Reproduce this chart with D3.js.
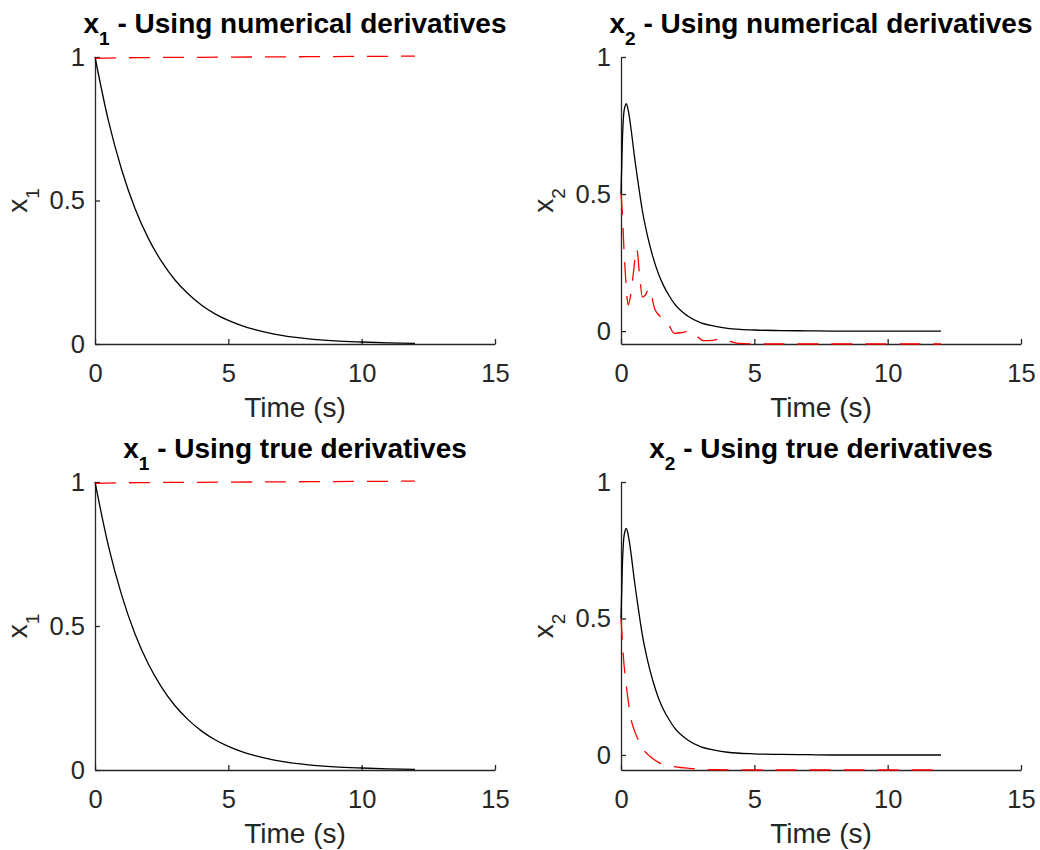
<!DOCTYPE html>
<html>
<head>
<meta charset="utf-8">
<script src="https://cdn.jsdelivr.net/npm/d3@7"></script>
<style>
  body { margin: 0; background: #fff; }
  svg { font-family: "Liberation Sans", Arial, Helvetica, sans-serif; }
  .axis path, .axis line { stroke: #262626; stroke-width: 1.3; }
  .axis text { fill: #262626; font-size: 25.5px; }
  .label { fill: #262626; font-size: 28px; }
  .title { fill: #000; font-size: 28px; font-weight: bold; }
</style>
</head>
<body>
<div id="chart"></div>
<script>
// ---- data ----
const xTicks = [0, 5, 10, 15];
const yTicks = [0, 0.5, 1];

// x1 states
const timeX1 = [0, 0.5, 1, 1.5, 2, 2.5, 3, 3.5, 4, 4.5, 5, 5.5, 6, 7, 8, 9, 10, 11, 12];
const x1True = [1, 0.779, 0.607, 0.472, 0.368, 0.287, 0.223, 0.174, 0.135, 0.105, 0.082, 0.064, 0.05, 0.03, 0.018, 0.011, 0.007, 0.004, 0.0025];
const timeX1Est = [0, 1, 2, 4, 8, 12];
const x1EstNumerical = [0.995, 0.997, 0.998, 0.999, 1.001, 1.003];
const x1EstTrue = [0.995, 0.997, 0.998, 0.999, 1.001, 1.003];

// x2 states
const timeX2 = [0, 0.05, 0.1, 0.15, 0.2, 0.25, 0.3, 0.4, 0.5, 0.6, 0.8, 1.0, 1.2, 1.4, 1.6, 1.8, 2.0, 2.5, 3, 3.5, 4, 5, 6, 7, 8, 10, 12];
const x2True = [0.5, 0.69, 0.79, 0.82, 0.83, 0.815, 0.79, 0.72, 0.64, 0.57, 0.44, 0.345, 0.27, 0.21, 0.165, 0.13, 0.1, 0.055, 0.03, 0.018, 0.01, 0.004, 0.002, 0.001, 0, 0, 0];

const timeX2EstNum = [0, 0.05, 0.12, 0.19, 0.27, 0.36, 0.45, 0.59, 0.7, 0.8, 0.9, 1.05, 1.27, 1.5, 1.8, 2.0, 2.3, 2.55, 2.8, 3.1, 3.5, 3.7, 4.0, 4.4, 5, 6, 8, 10, 12];
const x2EstNumerical = [0.5, 0.43, 0.28, 0.17, 0.095, 0.13, 0.2, 0.3, 0.2, 0.125, 0.13, 0.155, 0.08, 0.05, 0.02, -0.008, -0.005, 0, -0.015, -0.035, -0.033, -0.027, -0.035, -0.045, -0.047, -0.047, -0.047, -0.047, -0.047];

const timeX2EstTrue = [0, 0.05, 0.09, 0.18, 0.27, 0.36, 0.5, 0.65, 0.9, 1.15, 1.46, 2.0, 2.7, 3.5, 5, 8, 12];
const x2EstTrue = [0.5, 0.42, 0.36, 0.27, 0.2, 0.14, 0.09, 0.055, 0.012, -0.01, -0.03, -0.043, -0.05, -0.054, -0.055, -0.055, -0.055];

const panels = [
  { title: "1", tail: " - Using numerical derivatives", ySub: "1", yMin: 0,
    left: 95, top: 57, width: 400, height: 287,
    black: [timeX1, x1True], red: [timeX1Est, x1EstNumerical] },
  { title: "2", tail: " - Using numerical derivatives", ySub: "2", yMin: -0.047,
    left: 621, top: 57, width: 400, height: 287,
    black: [timeX2, x2True], red: [timeX2EstNum, x2EstNumerical] },
  { title: "1", tail: " - Using true derivatives", ySub: "1", yMin: 0,
    left: 95, top: 482, width: 400, height: 288,
    black: [timeX1, x1True], red: [timeX1Est, x1EstTrue] },
  { title: "2", tail: " - Using true derivatives", ySub: "2", yMin: -0.055,
    left: 621, top: 482, width: 400, height: 288,
    black: [timeX2, x2True], red: [timeX2EstTrue, x2EstTrue] }
];

const svg = d3.select("#chart").append("svg")
  .attr("width", 1040)
  .attr("height", 850);

function drawPanel(p) {
  const g = svg.append("g").attr("transform", `translate(${p.left},${p.top})`);

  const x = d3.scaleLinear().domain([0, 15]).range([0, p.width]);
  const y = d3.scaleLinear().domain([p.yMin, 1]).range([p.height, 0]);

  const line = d3.line()
    .x(d => x(d[0]))
    .y(d => y(d[1]))
    .curve(d3.curveMonotoneX);

  // ticks point inward like matlab
  g.append("g")
    .attr("class", "axis")
    .attr("transform", `translate(0,${p.height})`)
    .call(d3.axisBottom(x).tickValues(xTicks).tickSizeInner(-5).tickSizeOuter(0).tickPadding(20));

  g.append("g")
    .attr("class", "axis")
    .call(d3.axisLeft(y).tickValues(yTicks).tickSizeInner(-5).tickSizeOuter(0).tickPadding(10)
      .tickFormat(d3.format("")));

  g.selectAll(".axis .domain").attr("fill", "none");

  g.append("path")
    .datum(d3.zip(p.black[0], p.black[1]))
    .attr("d", line)
    .attr("fill", "none")
    .attr("stroke", "#000")
    .attr("stroke-width", 1.3);

  g.append("path")
    .datum(d3.zip(p.red[0], p.red[1]))
    .attr("d", line)
    .attr("fill", "none")
    .attr("stroke", "#ff0000")
    .attr("stroke-width", 1.3)
    .attr("stroke-dasharray", "21,13");

  // title with subscript
  const t = g.append("text")
    .attr("class", "title")
    .attr("x", p.width / 2)
    .attr("y", -24)
    .attr("text-anchor", "middle");
  t.append("tspan").text("x");
  t.append("tspan").attr("font-size", 19).attr("dy", 12).text(p.title);
  t.append("tspan").attr("dy", -12).text(p.tail);

  // x label
  g.append("text")
    .attr("class", "label")
    .attr("x", p.width / 2)
    .attr("y", p.height + 73)
    .attr("text-anchor", "middle")
    .text("Time (s)");

  // y label
  const yl = g.append("text")
    .attr("class", "label")
    .attr("transform", `translate(-68,${p.height / 2}) rotate(-90)`)
    .attr("text-anchor", "middle");
  yl.append("tspan").text("x");
  yl.append("tspan").attr("font-size", 19).attr("dy", 12).text(p.ySub);
}

panels.forEach(drawPanel);
</script>
</body>
</html>
